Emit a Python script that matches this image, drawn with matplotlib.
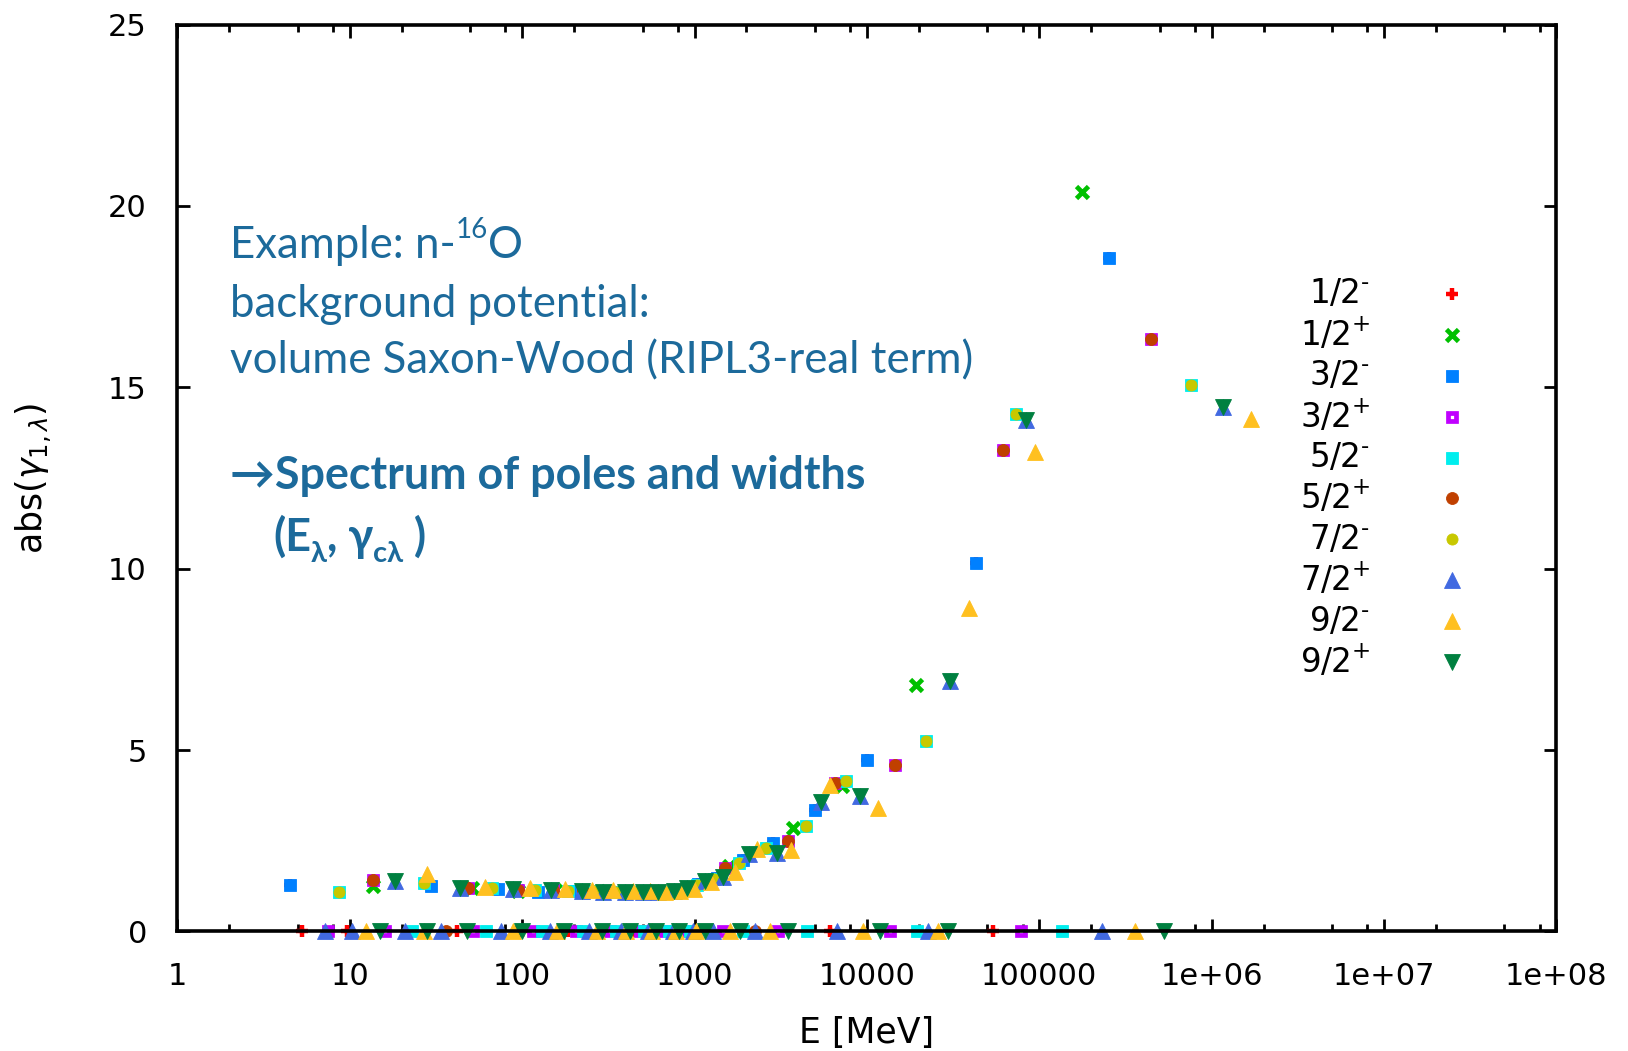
"""abs(gamma_1,lambda) vs pole energy for n-16O, background potential poles."""

import matplotlib
matplotlib.use("Agg")
import matplotlib.pyplot as plt
from matplotlib.ticker import LogLocator, NullFormatter

plt.rcParams["font.family"] = ["DejaVu Sans"]

# --- poles: E [MeV], abs(gamma_1,lambda) ---
# spin-orbit partners fall on the same points, so they share a curve
L0_E = [13.7, 51, 95, 155, 228, 310, 408, 520, 640, 780, 935, 1190, 1590,
        3730, 7200, 19300, 178000]
L0_G = [1.25, 1.21, 1.12, 1.13, 1.11, 1.10, 1.09, 1.08, 1.08, 1.12, 1.20, 1.40,
        1.80, 2.84, 4.00, 6.78, 20.39]

L1_E = [4.5, 29.5, 72.8, 124, 190, 265, 355, 460, 570, 700, 850, 1050, 1350,
        1910, 2860, 5000, 10000, 43000, 255000]
L1_G = [1.28, 1.25, 1.16, 1.09, 1.10, 1.10, 1.09, 1.08, 1.08, 1.09, 1.15, 1.30,
        1.48, 1.97, 2.44, 3.34, 4.72, 10.15, 18.56]

L2_E = [13.7, 48.7, 95, 150, 225, 305, 402, 512, 630, 770, 925, 1170, 1500,
        3490, 6500, 14600, 62000, 445000]
L2_G = [1.42, 1.19, 1.14, 1.13, 1.11, 1.10, 1.08, 1.08, 1.08, 1.12, 1.19, 1.38,
        1.75, 2.50, 4.09, 4.58, 13.27, 16.33]

L3_E = [8.65, 27, 66.6, 119, 185, 260, 348, 452, 560, 690, 840, 1040, 1300,
        1820, 2600, 4450, 7600, 21900, 73000, 764000]
L3_G = [1.09, 1.33, 1.19, 1.14, 1.12, 1.11, 1.09, 1.08, 1.08, 1.09, 1.14, 1.28,
        1.45, 1.88, 2.31, 2.90, 4.15, 5.26, 14.27, 15.07]

L4_E = [18.3, 43.6, 89, 147, 222, 296, 396, 505, 617, 762, 910, 1150, 1470,
        2070, 3010, 5400, 9100, 30500, 84000, 1170000]
L4_G = [1.40, 1.21, 1.16, 1.14, 1.12, 1.09, 1.08, 1.08, 1.08, 1.12, 1.19, 1.40,
        1.51, 2.13, 2.16, 3.57, 3.72, 6.89, 14.10, 14.45]

L5_E = [27.9, 61, 111, 177, 253, 338, 442, 550, 670, 820, 990, 1250, 1720,
        2310, 3620, 6100, 11600, 39000, 95000, 1690000]
L5_G = [1.58, 1.23, 1.21, 1.16, 1.14, 1.14, 1.12, 1.10, 1.09, 1.10, 1.16, 1.35,
        1.64, 2.27, 2.24, 4.03, 3.40, 8.92, 13.21, 14.13]

# poles with (near) zero amplitude in channel 1, along the E axis
Z12M_E = [5.3, 9.6, 42, 100, 185, 300, 450, 640, 860, 1080, 6100, 54000]
Z12M_G = [0, 0, 0, 0, 0, 0, 0, 0, 0, 0, 0, 0]
Z32P_E = [7.5, 16, 52, 115, 205, 325, 480, 675, 900, 1470, 3060, 13700, 78000]
Z32P_G = [0, 0, 0, 0, 0, 0, 0, 0, 0, 0, 0, 0, 0]
Z52M_E = [23, 62, 130, 225, 350, 510, 710, 940, 1910, 4500, 19600, 135000]
Z52M_G = [0, 0, 0, 0, 0, 0, 0, 0, 0, 0, 0, 0]
Z52P_E = [36, 95, 2250]
Z52P_G = [0, 0, 0]
Z72P_E = [7.2, 10.3, 21, 34, 75, 145, 245, 375, 540, 745, 980, 1280, 2250,
          6700, 22700, 230000]
Z72P_G = [0, 0, 0, 0, 0, 0, 0, 0, 0, 0, 0, 0, 0, 0, 0, 0]
Z92M_E = [12.4, 27, 88, 160, 270, 400, 570, 780, 1020, 1610, 2750, 9500,
          26000, 360000]
Z92M_G = [0, 0, 0, 0, 0, 0, 0, 0, 0, 0, 0, 0, 0, 0]
Z92P_E = [15, 28, 48, 100, 175, 290, 425, 600, 815, 1150, 1840, 3490, 11900,
          29700, 530000]
Z92P_G = [0, 0, 0, 0, 0, 0, 0, 0, 0, 0, 0, 0, 0, 0, 0]

LABELS = ["1/2-", "1/2+", "3/2-", "3/2+", "5/2-", "5/2+", "7/2-", "7/2+", "9/2-", "9/2+"]
COLORS = ["#FF0000", "#00C000", "#0080FF", "#C000FF", "#00EEEE",
          "#C04000", "#C8C800", "#4169E1", "#FFC020", "#008040"]

XTICKS = [1, 10, 100, 1000, 10000, 100000, 1e6, 1e7, 1e8]
XTICK_LABELS = ["1", "10", "100", "1000", "10000", "100000", "1e+06", "1e+07", "1e+08"]
YTICKS = [0, 5, 10, 15, 20, 25]

TEXT_BLUE = "#1c6a9b"


def marker_style(i):
    c = COLORS[i]
    styles = [
        dict(marker="+", ms=9, mew=3.2, color=c),
        dict(marker="x", ms=8.5, mew=3.4, color=c),
        dict(marker="s", ms=9, mew=0.6, color=c, mec=c),
        dict(marker="s", ms=6.2, mew=3.4, color=c, mec=c, mfc="white"),
        dict(marker="s", ms=9, mew=0.6, color=c, mec=c),
        dict(marker="o", ms=8.6, mew=0.6, color=c, mec=c),
        dict(marker="o", ms=8, mew=0.6, color=c, mec=c),
        dict(marker="^", ms=11, mew=0.6, color=c, mec=c),
        dict(marker="^", ms=11, mew=0.6, color=c, mec=c),
        dict(marker="v", ms=11, mew=0.6, color=c, mec=c),
    ]
    return styles[i]


def chain(ax, x, y, pieces):
    # lay text pieces one after another (for sub/superscripts in Lato)
    fig = ax.figure
    r = fig.canvas.get_renderer()
    dx = 0.0
    for s, size, dy, weight in pieces:
        t = ax.annotate(s, (x, y), xycoords="axes fraction", xytext=(dx, dy),
                        textcoords="offset points", fontsize=size, fontweight=weight,
                        ha="left", va="baseline", color=TEXT_BLUE,
                        family=["Lato", "DejaVu Sans"])
        dx += t.get_window_extent(renderer=r).width * 72 / fig.dpi


def main():
    series = [
        (L1_E + Z12M_E, L1_G + Z12M_G),
        (L0_E, L0_G),
        (L1_E, L1_G),
        (L2_E + Z32P_E, L2_G + Z32P_G),
        (L3_E + Z52M_E, L3_G + Z52M_G),
        (L2_E + Z52P_E, L2_G + Z52P_G),
        (L3_E, L3_G),
        (L4_E + Z72P_E, L4_G + Z72P_G),
        (L5_E + Z92M_E, L5_G + Z92M_G),
        (L4_E + Z92P_E, L4_G + Z92P_G),
    ]

    fig = plt.figure(figsize=(16.28, 10.51), dpi=100)
    ax = fig.add_axes([0.109, 0.1138, 0.847, 0.8628])

    for i, (e, g) in enumerate(series):
        ax.plot(e, g, ls="none", clip_on=False, **marker_style(i))

    ax.set_xscale("log")
    ax.set_xlim(1, 1e8)
    ax.set_ylim(0, 25)
    ax.set_xticks(XTICKS)
    ax.set_xticklabels(XTICK_LABELS)
    ax.xaxis.set_minor_locator(LogLocator(base=10, subs=[2, 5, 8], numticks=20))
    ax.xaxis.set_minor_formatter(NullFormatter())
    ax.set_yticks(YTICKS)
    ax.tick_params(which="both", direction="in", top=True, right=True,
                   labelsize=22, width=2)
    ax.tick_params(which="major", length=9, pad=22)
    ax.tick_params(which="minor", length=5)
    for sp in ax.spines.values():
        sp.set_linewidth(2.6)

    ax.set_xlabel("E [MeV]", fontsize=25)
    ax.xaxis.set_label_coords(0.5, -0.112)
    ax.xaxis.label.set_va("center")
    ax.set_ylabel(r"abs($\gamma_{1,\lambda}$)", fontsize=25)
    ax.yaxis.set_label_coords(-0.104, 0.5)
    ax.yaxis.label.set_va("center")

    # key, right-justified labels like gnuplot
    for i, lab in enumerate(LABELS):
        y = 0.703 - 0.0451 * i
        num, sign = lab[:-1], lab[-1]
        txt = num + (r"$^{\mathregular{+}}$" if sign == "+" else r"$^{\mathregular{‐}}$")
        ax.text(0.865, y, txt, transform=ax.transAxes, ha="right", va="center",
                fontsize=23.5)
        ax.plot([0.924], [y], transform=ax.transAxes, ls="none", clip_on=False,
                **marker_style(i))

    size = 31.5
    chain(ax, 0.0384, 0.743, [("Example: n-", size, 0, "normal"),
                              ("16", 20, 14, "normal"),
                              ("O", size, 0, "normal")])
    chain(ax, 0.0384, 0.678, [("background potential:", size, 0, "normal")])
    chain(ax, 0.0384, 0.615, [("volume Saxon-Wood (RIPL3-real term)", size, 0, "normal")])
    chain(ax, 0.0384, 0.488, [("\u2192Spectrum of poles and widths", 32.3, 0, "bold")])
    chain(ax, 0.0693, 0.42, [("(E", 32.3, 0, "bold"),
                             ("\u03bb", 21, -8, "bold"),
                             (", \u03b3", 32.3, 0, "bold"),
                             ("c\u03bb", 21, -8, "bold"),
                             (" )", 32.3, 0, "bold")])

    fig.savefig("out.png", dpi=100)
    plt.close(fig)


if __name__ == "__main__":
    main()
